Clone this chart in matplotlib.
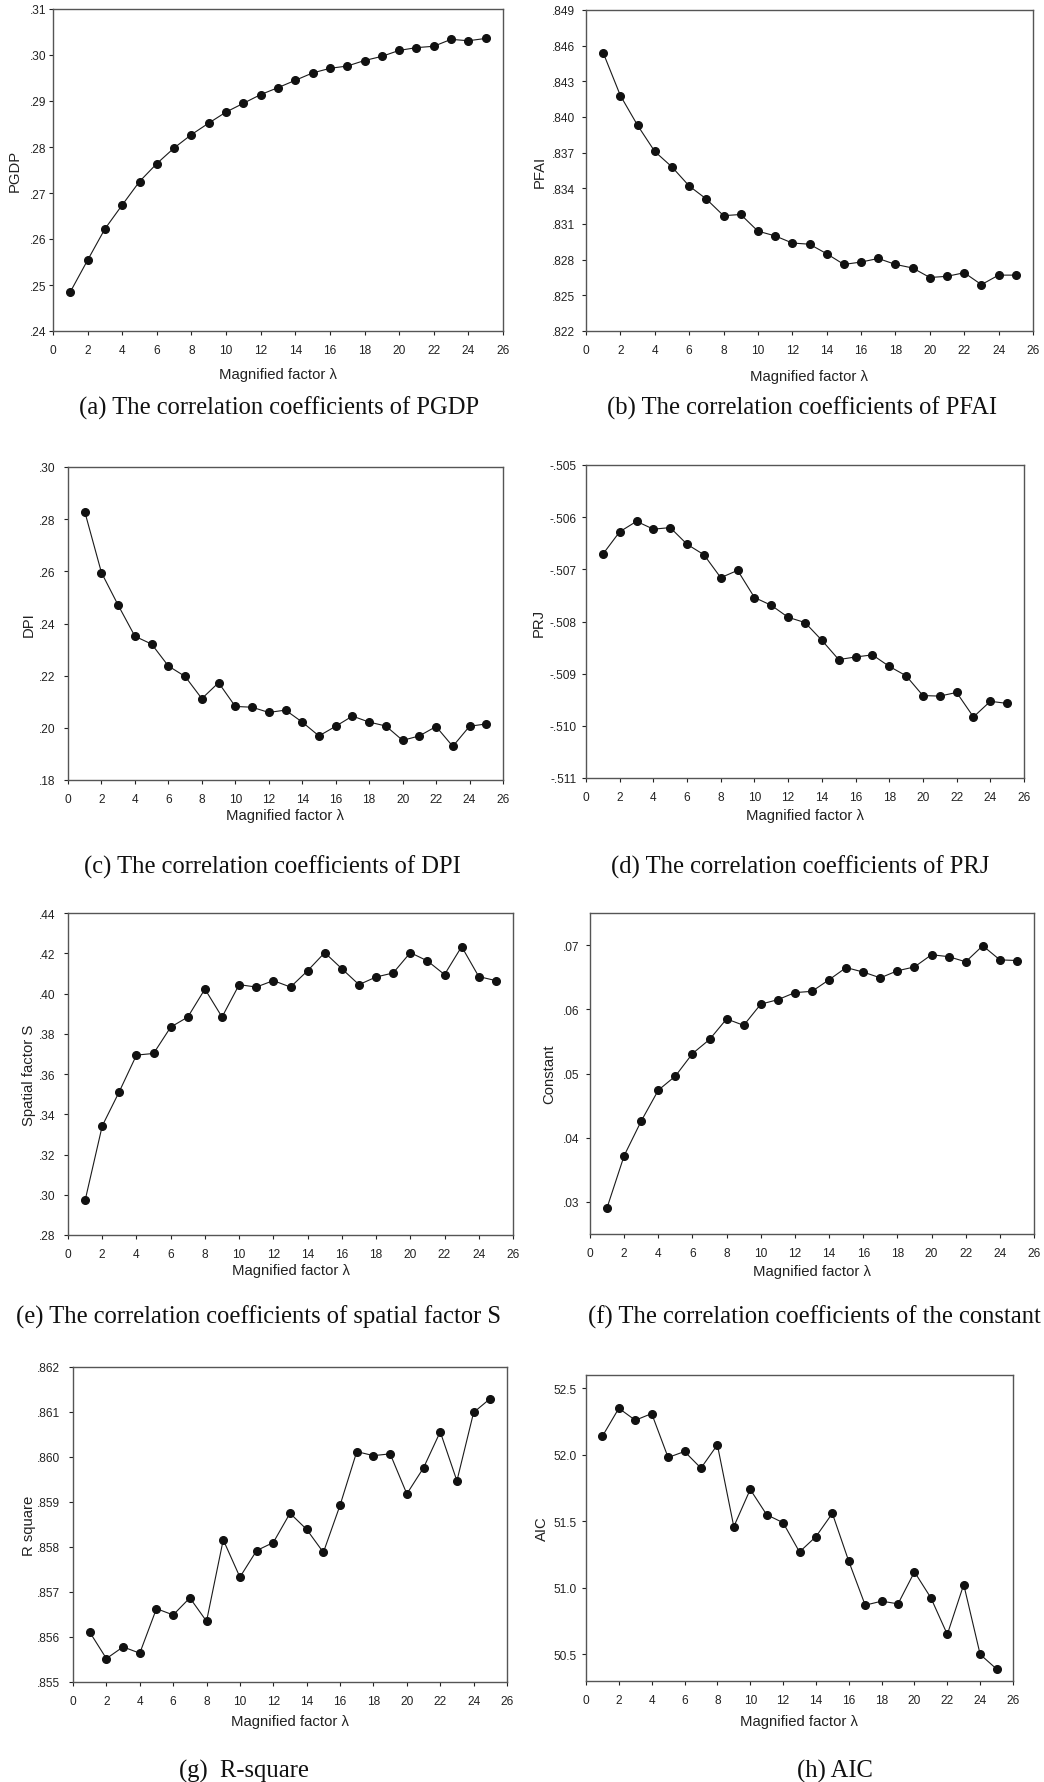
import matplotlib
matplotlib.use("Agg")
import matplotlib.pyplot as plt
from matplotlib.ticker import FuncFormatter, MultipleLocator

lam = list(range(1, 26))

pgdp = [.2485, .2554, .2622, .2674, .2725, .2764, .2798, .2827, .2852, .2876,
        .2895, .2914, .2929, .2945, .2961, .2971, .2976, .2988, .2997, .3010,
        .3016, .3019, .3034, .3031, .3036]
pfai = [.8454, .8418, .8393, .8371, .8358, .8342, .8331, .8317, .8318, .8304,
        .8300, .8294, .8293, .8285, .8276, .8278, .8281, .8276, .8273, .8265,
        .8266, .8269, .8259, .8267, .8267]
dpi_ = [.2829, .2595, .2470, .2351, .2321, .2237, .2197, .2112, .2173, .2082,
        .2079, .2059, .2068, .2022, .1969, .2006, .2045, .2022, .2007, .1952,
        .1969, .2005, .1929, .2006, .2015]
prj = [-.50671, -.50628, -.50608, -.50623, -.50620, -.50652, -.50672, -.50716,
       -.50702, -.50754, -.50769, -.50792, -.50802, -.50836, -.50873, -.50868,
       -.50864, -.50886, -.50904, -.50942, -.50943, -.50936, -.50983, -.50953,
       -.50957]
spatial = [.2972, .3342, .3513, .3694, .3702, .3833, .3883, .4022, .3883, .4044,
           .4032, .4064, .4032, .4113, .4203, .4123, .4044, .4082, .4102, .4203,
           .4162, .4094, .4233, .4084, .4064]
const = [.0291, .0372, .0426, .0474, .0496, .0531, .0553, .0585, .0575, .0608,
         .0615, .0626, .0628, .0646, .0665, .0658, .0649, .0660, .0666, .0685,
         .0682, .0674, .0699, .0677, .0676]
rsq = [.85611, .85552, .85578, .85564, .85663, .85649, .85687, .85635, .85816,
       .85733, .85792, .85810, .85875, .85839, .85788, .85893, .86012, .86003,
       .86007, .85918, .85976, .86056, .85947, .86099, .86130]
aic = [52.14, 52.35, 52.26, 52.31, 51.98, 52.025, 51.90, 52.075, 51.46, 51.74,
       51.55, 51.49, 51.27, 51.385, 51.56, 51.20, 50.87, 50.90, 50.88, 51.12,
       50.925, 50.65, 51.025, 50.50, 50.39]

W, H = 1044, 1783
fig = plt.figure(figsize=(W / 100, H / 100), dpi=100)


def strip0(dec):
    # SPSS style: ".25" / "-.505" instead of "0.25" / "-0.505"
    def f(v, pos):
        s = f"{v:.{dec}f}"
        if s.startswith("0."):
            s = s[1:]
        elif s.startswith("-0."):
            s = "-" + s[2:]
        return s
    return FuncFormatter(f)


# data, box (px: left, top, right, bottom), ylim, step, decimals, ylabel,
# caption, caption centre (px), ylabel centre x (px), xlabel offset (px), ytick pad
panels = [
    (pgdp, (53, 10, 503, 332), (.24, .31), .01, 2, "PGDP",
     "(a) The correlation coefficients of PGDP", (279, 408), 15, 43, 2),
    (pfai, (586, 11, 1033, 332), (.822, .849), .003, 3, "PFAI",
     "(b) The correlation coefficients of PFAI", (802, 408), 540, 45, 5),
    (dpi_, (68, 468, 503, 781), (.18, .30), .02, 2, "DPI",
     "(c) The correlation coefficients of DPI", (272, 867), 29, 35, 6),
    (prj, (586, 466, 1024, 779), (-.511, -.505), .001, 3, "PRJ",
     "(d) The correlation coefficients of PRJ", (800, 867), 539, 37, 4),
    (spatial, (68, 914, 513, 1236), (.28, .44), .02, 2, "Spatial factor S",
     "(e) The correlation coefficients of spatial factor S", (259, 1317), 29, 35, 6),
    (const, (590, 914, 1034, 1235), (.025, .075), .01, 2, "Constant",
     "(f) The correlation coefficients of the constant", (814, 1317), 549, 37, 5),
    (rsq, (73, 1368, 507, 1683), (.855, .862), .001, 3, "R square",
     "(g)  R-square", (244, 1771), 29, 39, 6),
    (aic, (586, 1376, 1013, 1682), (50.3, 52.6), .5, 1, "AIC",
     "(h) AIC", (835, 1771), 542, 40, 4),
]

for vals, (l, t, r, b), ylim, step, dec, ylab, cap, (cx, cy), ylx, xoff, ypad in panels:
    ax = fig.add_axes([l / W, 1 - b / H, (r - l) / W, (b - t) / H])
    ax.plot(lam, vals, color="#1a1a1a", lw=0.8, marker="o", ms=5.5,
            markerfacecolor="#111111", markeredgecolor="#111111")
    ax.set_xlim(0, 26)
    ax.set_ylim(*ylim)
    ax.xaxis.set_major_locator(MultipleLocator(2))
    if ylab == "Constant":
        ax.set_yticks([.03, .04, .05, .06, .07])
    elif ylab == "AIC":
        ax.set_yticks([50.5, 51.0, 51.5, 52.0, 52.5])
    else:
        ax.yaxis.set_major_locator(MultipleLocator(step))
    ax.yaxis.set_major_formatter(strip0(dec))
    ax.tick_params(direction="out", length=3, width=0.8, labelsize=8.6,
                   colors="#222222")
    ax.tick_params(axis="x", pad=6.5)
    ax.tick_params(axis="y", pad=ypad)
    for s in ax.spines.values():
        s.set_color("#555555")
        s.set_linewidth(1.0)
    ax.set_xlabel("Magnified factor λ", fontsize=10.7, family="Liberation Sans",
                  color="#222222", va="center")
    ax.xaxis.set_label_coords(0.5, -xoff / (b - t))
    ax.set_ylabel(ylab, fontsize=10.7, family="Liberation Sans", color="#222222",
                  va="center")
    ax.yaxis.set_label_coords((ylx - l) / (r - l), 0.5)
    for lab in ax.get_xticklabels() + ax.get_yticklabels():
        lab.set_family("Liberation Sans")
    fig.text(cx / W, 1 - cy / H, cap, ha="center", va="center",
             fontsize=17.7, family="Liberation Serif", color="#111111")

fig.savefig("out.png", dpi=100)
